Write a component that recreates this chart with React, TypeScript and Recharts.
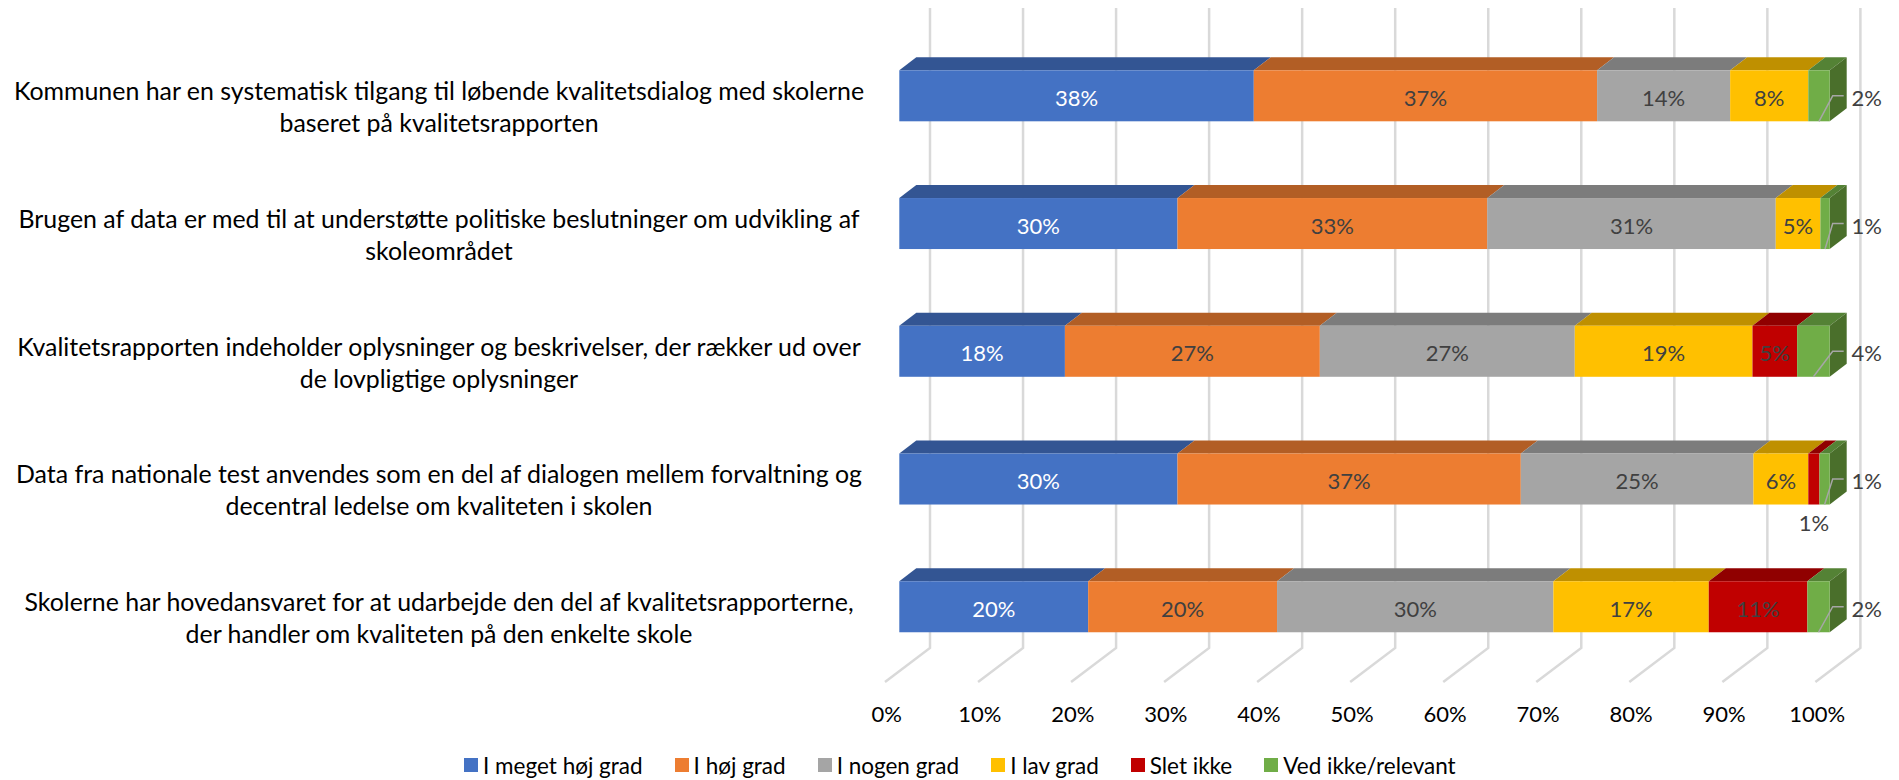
import React from "react";
import { BarChart, Bar, XAxis, YAxis, CartesianGrid, LabelList, Legend } from "recharts";

const categoryLines = [
  ["Kommunen har en systematisk tilgang til løbende kvalitetsdialog med skolerne", "baseret på kvalitetsrapporten"],
  ["Brugen af data er med til at understøtte politiske beslutninger om udvikling af", "skoleområdet"],
  ["Kvalitetsrapporten indeholder oplysninger og beskrivelser, der rækker ud over", "de lovpligtige oplysninger"],
  ["Data fra nationale test anvendes som en del af dialogen mellem forvaltning og", "decentral ledelse om kvaliteten i skolen"],
  ["Skolerne har hovedansvaret for at udarbejde den del af kvalitetsrapporterne,", "der handler om kvaliteten på den enkelte skole"],
];
const seriesNames = ["I meget høj grad", "I høj grad", "I nogen grad", "I lav grad", "Slet ikke", "Ved ikke/relevant"];
const meget = [38.1, 29.9, 17.8, 29.9, 20.3];
const hoj = [36.9, 33.3, 27.4, 36.9, 20.3];
const nogen = [14.3, 31.0, 27.4, 25.0, 29.7];
const lav = [8.4, 4.8, 19.1, 5.9, 16.7];
const slet = [0, 0, 4.8, 1.2, 10.6];
const vedIkke = [2.3, 1.0, 3.5, 1.1, 2.4];
const seriesValues = [meget, hoj, nogen, lav, slet, vedIkke];
const faceColors = ["#4472C4", "#ED7D31", "#A5A5A5", "#FFC000", "#C00000", "#70AD47"];
const topColors = ["#335593", "#B25E25", "#7C7C7C", "#BF9000", "#900000", "#548235"];
const sideColor = "#4A6F2B";
const xTicks = [0, 10, 20, 30, 40, 50, 60, 70, 80, 90, 100];

const data = categoryLines.map((lines, i) => {
  const row: Record<string, unknown> = { id: i, lines };
  seriesNames.forEach((n, s) => (row[n] = seriesValues[s][i]));
  return row;
});

const FONT = "Lato, Carlito, Calibri, sans-serif";
const DX = 17;
const DY = 13;

const Face = (props: any) => {
  const { x, y, width, height, seriesIndex } = props;
  if (!width || width <= 0) return null;
  const isLast = seriesIndex === seriesNames.length - 1;
  return (
    <g>
      <polygon
        points={`${x},${y} ${x + DX},${y - DY} ${x + width + DX},${y - DY} ${x + width},${y}`}
        fill={topColors[seriesIndex]}
      />
      {isLast && (
        <polygon
          points={`${x + width},${y} ${x + width + DX},${y - DY} ${x + width + DX},${y + height - DY} ${x + width},${y + height}`}
          fill={sideColor}
        />
      )}
      <rect x={x} y={y} width={width} height={height} fill={faceColors[seriesIndex]} />
    </g>
  );
};

const SegmentLabel = (props: any) => {
  const { x, y, width, height, value, seriesIndex } = props;
  if (!value) return null;
  const text = `${Math.round(value)}%`;
  const cx = x + width / 2;
  const cy = y + height / 2;
  const common = { fontFamily: FONT, fontSize: 22, fill: "#404040", textAnchor: "middle" as const, dominantBaseline: "central" as const };
  if (seriesIndex === 5) {
    const elbowX = x + width + 3;
    return (
      <g>
        <polyline
          points={`${cx},${y + height} ${elbowX},${cy} ${x + width + 14},${cy}`}
          fill="none"
          stroke="#A6A6A6"
          strokeWidth={1.5}
        />
        <text {...common} x={x + width + 37} y={cy + 1.5}>{text}</text>
      </g>
    );
  }
  if (seriesIndex === 4 && value < 2) {
    return <text {...common} x={cx} y={y + height + 18}>{text}</text>;
  }
  return <text {...common} x={cx} y={cy + 1.5} fill={seriesIndex === 0 ? "#FFFFFF" : "#404040"}>{text}</text>;
};

const GridLine3D = (props: any) => {
  const { x1, y1, y2 } = props;
  return (
    <polyline
      points={`${x1 + 30.7},${y1 - 24.3} ${x1 + 30.7},${y2 - 23} ${x1 - 14.3},${y2 + 11}`}
      fill="none"
      stroke="#D9D9D9"
      strokeWidth={2.5}
    />
  );
};

const XTick = (props: any) => {
  const { x, y, payload } = props;
  return (
    <text x={x - 12.5} y={y + 34.5} textAnchor="middle" dominantBaseline="central" fontFamily={FONT} fontSize={22} fill="#000000">
      {payload.value}%
    </text>
  );
};

const YTick = (props: any) => {
  const { y, payload } = props;
  const lines = categoryLines[payload.index] ?? categoryLines[0];
  return (
    <text textAnchor="middle" fontFamily={FONT} fontSize={24.9} fill="#000000">
      <tspan x={439} y={y + 4}>{lines[0]}</tspan>
      <tspan x={439} y={y + 36}>{lines[1]}</tspan>
    </text>
  );
};

const LegendRow = () => (
  <div style={{ display: "flex", justifyContent: "center", alignItems: "center", height: 30, fontFamily: FONT, fontSize: 22.5, color: "#000000", gap: 32, paddingLeft: 90 }}>
    {seriesNames.map((n, i) => (
      <div key={n} style={{ display: "flex", alignItems: "center", gap: 5 }}>
        <span style={{ width: 14, height: 14, background: faceColors[i], display: "inline-block" }} />
        <span>{n}</span>
      </div>
    ))}
  </div>
);

export default function App() {
  return (
    <div style={{ position: "absolute", left: 0, top: 0, width: 1899, height: 780, background: "#fff", overflow: "hidden" }}>
      <BarChart
        width={1899}
        height={780}
        data={data}
        layout="vertical"
        barSize={51}
        margin={{ top: 32.3, right: 69.3, bottom: 0, left: 0 }}
      >
        <CartesianGrid horizontal={false} vertical={GridLine3D as any} />
        <XAxis type="number" domain={[0, 100]} ticks={xTicks} axisLine={false} tickLine={false} height={79} interval={0} tick={XTick as any} />
        <YAxis type="category" dataKey="id" width={899.3} axisLine={false} tickLine={false} tick={YTick as any} />
        <Legend verticalAlign="bottom" height={30} content={LegendRow as any} />
        {seriesNames.map((n, i) => (
          <Bar key={n} dataKey={n} stackId="a" isAnimationActive={false} shape={(p: any) => <Face {...p} seriesIndex={i} />}>
            <LabelList dataKey={n} content={(p: any) => <SegmentLabel {...p} seriesIndex={i} />} />
          </Bar>
        ))}
      </BarChart>
    </div>
  );
}
